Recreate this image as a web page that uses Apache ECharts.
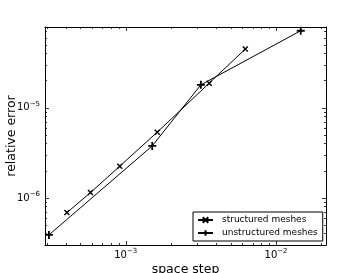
<!DOCTYPE html>
<html>
<head>
<meta charset="utf-8">
<script src="https://cdn.jsdelivr.net/npm/echarts@6/dist/echarts.min.js"></script>
<style>
html,body{margin:0;padding:0;background:#fff;}
#chart{width:363px;height:273px;}
</style>
</head>
<body>
<div id="chart"></div>
<script>
// ---- data ----
const structuredStep  = [4.06e-4, 5.82e-4, 9.12e-4, 1.62e-3, 3.59e-3, 6.24e-3];
const structuredError = [6.87e-7, 1.145e-6, 2.25e-6, 5.37e-6, 1.88e-5, 4.49e-5];
const unstructuredStep  = [3.08e-4, 1.50e-3, 3.16e-3, 1.46e-2];
const unstructuredError = [3.88e-7, 3.78e-6, 1.80e-5, 7.18e-5];

const seriesNames = ['structured meshes', 'unstructured meshes'];
const xName = 'space step';
const yName = 'relative error';

// axis ranges and ticks
const xRange = [2.9e-4, 2.15e-2];
const yRange = [3.0e-7, 7.9e-5];
const xMajorTicks = [1e-3, 1e-2];
const xMinorTicks = [3e-4, 4e-4, 5e-4, 6e-4, 7e-4, 8e-4, 9e-4,
                     2e-3, 3e-3, 4e-3, 5e-3, 6e-3, 7e-3, 8e-3, 9e-3, 2e-2];
const yMajorTicks = [1e-6, 1e-5];
const yMinorTicks = [4e-7, 5e-7, 6e-7, 7e-7, 8e-7, 9e-7,
                     2e-6, 3e-6, 4e-6, 5e-6, 6e-6, 7e-6, 8e-6, 9e-6,
                     2e-5, 3e-5, 4e-5, 5e-5, 6e-5, 7e-5];

const FONT = 'DejaVu Sans';

function pairs(xs, ys) { return xs.map((x, i) => [x, ys[i]]); }

function supLabel(v) {
  const e = Math.round(Math.log10(v));
  return '{b|10}{s|' + (e < 0 ? '\u2212' + (-e) : e) + '}';
}

const labelRich = {
  b: { fontSize: 10, fontFamily: FONT, color: '#000' },
  s: { fontSize: 7, fontFamily: FONT, color: '#000', padding: [0, 0, 7, 0] }
};

function makeAxis(range, position, ticks, len, opts) {
  opts = opts || {};
  return Object.assign({
    type: 'log',
    logBase: 10,
    gridIndex: 0,
    position: position,
    min: range[0],
    max: range[1],
    splitLine: { show: false },
    axisLine: { show: !!opts.line, lineStyle: { color: '#000', width: 1 } },
    axisTick: { show: true, inside: true, length: len, customValues: ticks,
                lineStyle: { color: '#000', width: 0.8 } },
    axisLabel: opts.labels ? {
      show: true, customValues: opts.labels, formatter: supLabel, rich: labelRich,
      margin: opts.margin
    } : { show: false },
    minorTick: { show: false }
  }, opts.extra || {});
}

const xAxes = [
  makeAxis(xRange, 'bottom', xMajorTicks, 4, { line: true, labels: xMajorTicks, margin: 3,
    extra: { name: xName, nameLocation: 'middle', nameGap: 18, nameMoveOverlap: false,
             nameTextStyle: { fontSize: 12.5, fontFamily: FONT, color: '#000' } } }),
  makeAxis(xRange, 'bottom', xMinorTicks, 2),
  makeAxis(xRange, 'top', xMajorTicks, 4, { line: true }),
  makeAxis(xRange, 'top', xMinorTicks, 2)
];
const yAxes = [
  makeAxis(yRange, 'left', yMajorTicks, 4, { line: true, labels: yMajorTicks, margin: 5,
    extra: { name: yName, nameLocation: 'middle', nameGap: 27, nameMoveOverlap: false,
             nameTextStyle: { fontSize: 12.5, fontFamily: FONT, color: '#000' } } }),
  makeAxis(yRange, 'left', yMinorTicks, 2),
  makeAxis(yRange, 'right', yMajorTicks, 4, { line: true }),
  makeAxis(yRange, 'right', yMinorTicks, 2)
];

const option = {
  backgroundColor: '#fff',
  animation: false,
  grid: { left: 45, right: 37, top: 27, bottom: 28, containLabel: false, outerBoundsMode: 'none' },
  xAxis: xAxes,
  yAxis: yAxes,
  legend: {
    orient: 'vertical',
    left: 193, top: 212,
    padding: [3, 5, 3, 4],
    itemWidth: 15, itemHeight: 7, itemGap: 3,
    borderColor: '#000', borderWidth: 1, backgroundColor: '#fff', borderRadius: 0,
    textStyle: { fontSize: 9, fontFamily: FONT, color: '#000', lineHeight: 10, padding: [0, 0, 0, 4] },
    data: seriesNames
  },
  series: [
    {
      name: seriesNames[0], type: 'line', xAxisIndex: 0, yAxisIndex: 0,
      data: pairs(structuredStep, structuredError),
      symbol: 'path://M0,0L10,10M0,10L10,0', symbolSize: 5,
      itemStyle: { color: '#000', borderColor: '#000', borderWidth: 1.4 },
      lineStyle: { color: '#000', width: 1 },
      z: 3
    },
    {
      name: seriesNames[1], type: 'line', xAxisIndex: 0, yAxisIndex: 0,
      data: pairs(unstructuredStep, unstructuredError),
      symbol: 'path://M5,0L5,10M0,5L10,5', symbolSize: 8,
      itemStyle: { color: '#000', borderColor: '#000', borderWidth: 1.8 },
      lineStyle: { color: '#000', width: 1 },
      z: 3
    }
  ]
};

const chart = echarts.init(document.getElementById('chart'), null, { renderer: 'canvas' });
chart.setOption(option);
</script>
</body>
</html>
